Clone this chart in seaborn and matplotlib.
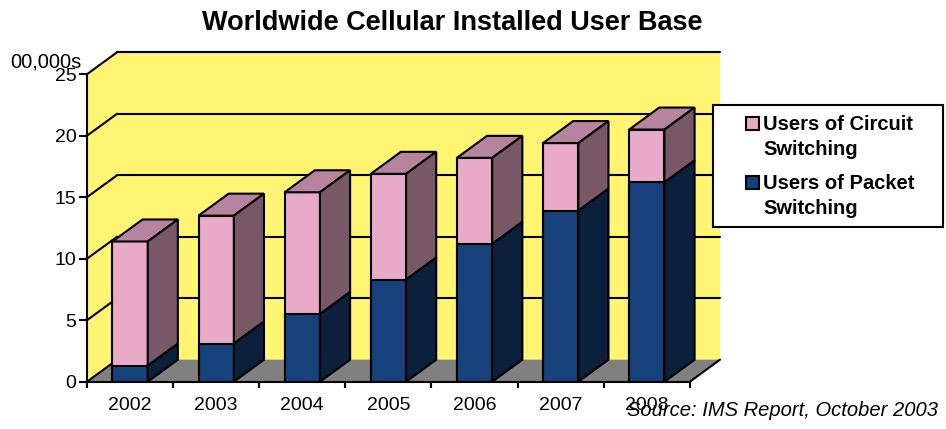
import numpy as np
import pandas as pd
import seaborn as sb
import matplotlib.pyplot as plt
from matplotlib.patches import Polygon, Rectangle

# values (00,000s of users)
years = ["2002", "2003", "2004", "2005", "2006", "2007", "2008"]
packet = [1.3, 3.1, 5.5, 8.3, 11.2, 13.9, 16.2]
circuit = [10.1, 10.4, 9.9, 8.6, 7.0, 5.5, 4.3]
y_ticks = [0, 5, 10, 15, 20, 25]
legend_lines = [["Users of Circuit", "Switching"], ["Users of Packet", "Switching"]]

PINK, PINK_TOP, PINK_SIDE = "#E8AAC8", "#B6849E", "#785866"
BLUE, BLUE_SIDE = "#16417A", "#0C203C"
WALL, FLOOR = "#FFF573", "#808080"
LW = 1.5

sb.set_theme(style="white")
plt.rcParams["font.family"] = ["Liberation Sans", "DejaVu Sans"]
plt.rcParams["text.color"] = "black"

df = pd.DataFrame({"year": years, "packet": packet, "circuit": circuit})
df["total"] = df["packet"] + df["circuit"]

W, H = 946, 429
fig = plt.figure(figsize=(W / 100, H / 100), dpi=100)
ax = fig.add_axes([87 / W, 47.3 / H, 633 / W, 329.5 / H])

def px(x, y):
    # pixel position (from top left) -> figure fraction
    return x / W, 1 - y / H

# front faces: total in pink, packet drawn over it in blue
sb.barplot(data=df, x="year", y="total", color=PINK, width=0.41, saturation=1,
           edgecolor="black", linewidth=LW, errorbar=None, ax=ax, zorder=3)
sb.barplot(data=df, x="year", y="packet", color=BLUE, width=0.41, saturation=1,
           edgecolor="black", linewidth=LW, errorbar=None, ax=ax, zorder=3)
tot_bars = list(ax.containers[0])
pkt_bars = list(ax.containers[1])

n = len(years)
ymax = y_ticks[-1]
DX, DY = 0.35, 1.79  # depth of the fake 3d box, data units

# back wall, side wall, floor
ax.add_patch(Rectangle((-0.5 + DX, DY), n, ymax, fc=WALL, ec="none", zorder=0))
ax.add_patch(Polygon([(-0.5, 0), (-0.5, ymax), (-0.5 + DX, ymax + DY), (-0.5 + DX, DY)],
                     fc=WALL, ec="none", zorder=0))
ax.add_patch(Polygon([(-0.5, 0), (n - 0.5, 0), (n - 0.5 + DX, DY), (-0.5 + DX, DY)],
                     fc=FLOOR, ec="none", zorder=1))
for v in y_ticks:
    ax.plot([-0.5, -0.5 + DX], [v, v + DY], color="black", lw=LW, zorder=1.5, clip_on=False)
    if v > 0:
        ax.plot([-0.5 + DX, n - 0.5 + DX], [v + DY, v + DY], color="black", lw=LW,
                zorder=0.5, clip_on=False)
ax.plot([n - 0.5, n - 0.5 + DX], [0, DY], color="black", lw=LW, zorder=1.5, clip_on=False)

# top and side faces of each column
for t, p in zip(tot_bars, pkt_bars):
    x0 = t.get_x()
    x1 = x0 + t.get_width()
    h = t.get_height()
    ph = p.get_height()
    faces = [
        ([(x0, h), (x1, h), (x1 + DX, h + DY), (x0 + DX, h + DY)], PINK_TOP),
        ([(x1, ph), (x1, h), (x1 + DX, h + DY), (x1 + DX, ph + DY)], PINK_SIDE),
        ([(x1, 0), (x1, ph), (x1 + DX, ph + DY), (x1 + DX, DY)], BLUE_SIDE),
    ]
    for pts, c in faces:
        ax.add_patch(Polygon(pts, closed=True, fc=c, ec="black", lw=LW, zorder=3))

ax.set_xlim(-0.5, n - 0.5 + DX)
ax.set_ylim(0, ymax + DY)
ax.set_xlabel("")
ax.set_ylabel("")
for s in ["top", "right"]:
    ax.spines[s].set_visible(False)
for s in ["left", "bottom"]:
    ax.spines[s].set_color("black")
    ax.spines[s].set_linewidth(LW)
    ax.spines[s].set_zorder(4)
ax.spines["left"].set_bounds(0, ymax)
ax.spines["bottom"].set_bounds(-0.5, n - 0.5)

ax.set_yticks(y_ticks)
ax.set_yticklabels([str(v) for v in y_ticks])
ax.tick_params(axis="y", left=True, length=5.5, width=LW, pad=2, labelsize=14,
               color="black", labelcolor="black")
ax.set_xticks(range(n))
ax.set_xticklabels(years)
ax.set_xticks(np.arange(-0.5, n, 1), minor=True)
ax.tick_params(axis="x", which="major", bottom=True, length=0, pad=11, labelsize=14,
               labelcolor="black")
ax.tick_params(axis="x", which="minor", bottom=True, length=4.5, width=LW,
               direction="out", color="black")

fig.text(*px(452.5, 30), "Worldwide Cellular Installed User Base", ha="center",
         va="baseline", fontsize=19.5, fontweight="bold")
fig.text(*px(46, 67), "00,000s", ha="center", va="baseline", fontsize=14.5)
fig.text(*px(627, 416), "Source: IMS Report, October 2003", ha="left",
         va="baseline", fontsize=14.5, style="italic")

# legend box drawn by hand so the swatch sits on the first text line
fig.add_artist(Rectangle(px(713, 227), 230 / W, 122 / H, transform=fig.transFigure,
                         fc="white", ec="black", lw=LW))
for i, (lines, c) in enumerate(zip(legend_lines, [PINK, BLUE])):
    cy = 123 + 59 * i
    fig.add_artist(Rectangle(px(745.5, cy + 6.5), 13 / W, 13 / H, transform=fig.transFigure,
                             fc=c, ec="black", lw=LW))
    for j, line in enumerate(lines):
        fig.text(*px(763, cy + 7 + 25 * j), line, ha="left", va="baseline",
                 fontsize=14.5, fontweight="bold")

fig.savefig("out.png", dpi=100)
